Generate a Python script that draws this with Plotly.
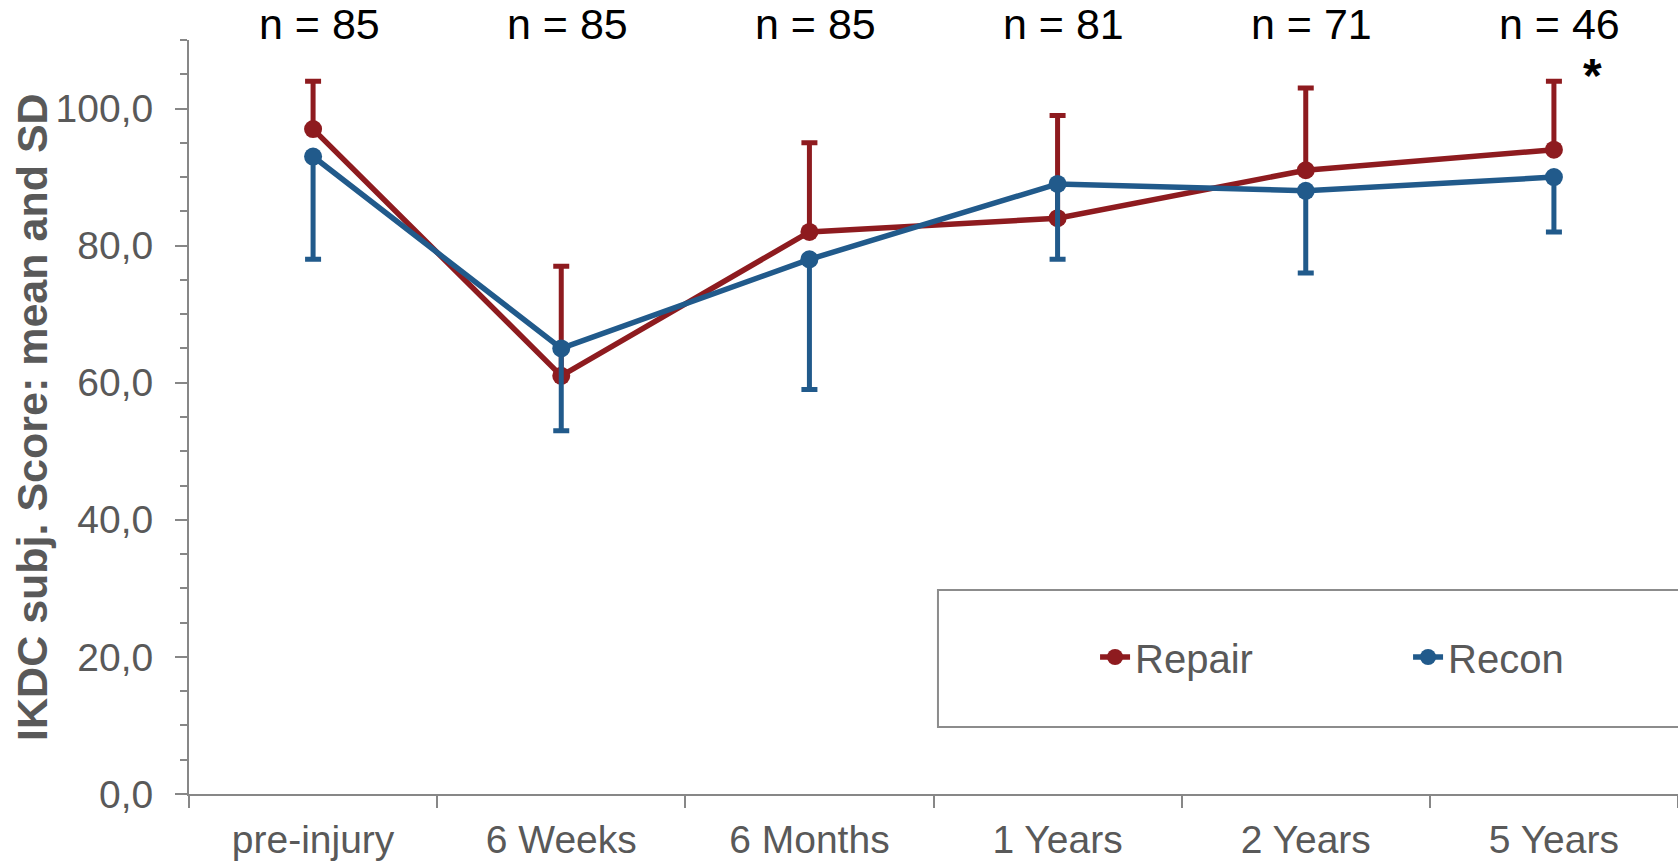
import plotly.graph_objects as go

# Follow-up time points
categories = ["pre-injury", "6 Weeks", "6 Months", "1 Years", "2 Years", "5 Years"]

# IKDC subjective score, mean and SD per group
repair_mean = [97, 61, 82, 84, 91, 94]
repair_sd = [7, 16, 13, 15, 12, 10]
recon_mean = [93, 65, 78, 89, 88, 90]
recon_sd = [15, 12, 19, 11, 12, 8]

# Patients at each time point
n_labels = ["n = 85", "n = 85", "n = 85", "n = 81", "n = 71", "n = 46"]

RED = "#8E1B1F"
BLUE = "#215A8B"
AXIS = "#878787"
TEXT = "#595959"
FONT = "Liberation Sans, Arial, sans-serif"

fig = go.Figure()

fig.add_trace(go.Scatter(
    x=categories, y=repair_mean, name="Repair", mode="lines+markers",
    line=dict(color=RED, width=5.5),
    marker=dict(color=RED, size=18),
    error_y=dict(type="data", symmetric=False, array=repair_sd,
                 arrayminus=[0] * len(repair_sd),
                 color=RED, thickness=5, width=8),
))
fig.add_trace(go.Scatter(
    x=categories, y=recon_mean, name="Recon", mode="lines+markers",
    line=dict(color=BLUE, width=5.5),
    marker=dict(color=BLUE, size=18),
    error_y=dict(type="data", symmetric=False, array=[0] * len(recon_sd),
                 arrayminus=recon_sd,
                 color=BLUE, thickness=5, width=8),
))

# sample sizes above each time point
for cat, label in zip(categories, n_labels):
    fig.add_annotation(
        x=cat, xref="x", y=1.021, yref="paper", text=label, showarrow=False,
        xshift=6, yanchor="middle",
        font=dict(family=FONT, size=43, color="#000000"),
    )

# significance marker at the last follow-up
fig.add_annotation(
    x=categories[-1], xref="x", y=0.953, yref="paper", text="<b>*</b>",
    showarrow=False, xshift=39, yanchor="middle",
    font=dict(family=FONT, size=48, color="#000000"),
)

# y-axis title
fig.add_annotation(
    x=-0.1055, xref="paper", y=0.5, yref="paper",
    text="<b>IKDC subj. Score: mean and SD</b>", textangle=-90,
    showarrow=False, xanchor="center", yanchor="middle",
    font=dict(family=FONT, size=43, color=TEXT),
)

# legend frame
fig.add_shape(
    type="rect", xref="paper", yref="paper",
    x0=0.503, x1=1.02, y0=0.0889, y1=0.2706,
    line=dict(color="#8c8c8c", width=2), fillcolor="rgba(0,0,0,0)",
)

fig.update_layout(
    width=1678, height=865,
    margin=dict(l=189, r=0, t=40, b=71, autoexpand=False),
    paper_bgcolor="white", plot_bgcolor="white",
    separators=", ",
    showlegend=True,
    legend=dict(
        orientation="h", x=0.6085, y=0.1817, xanchor="left", yanchor="middle",
        bgcolor="rgba(0,0,0,0)", borderwidth=0,
        font=dict(family=FONT, size=40, color=TEXT),
        entrywidth=268, entrywidthmode="pixels",
    ),
    xaxis=dict(
        type="category", range=[-0.5, 5.5],
        showline=True, linecolor=AXIS, linewidth=2,
        ticks="outside", tickson="boundaries", ticklen=12, tickwidth=2, tickcolor=AXIS,
        showgrid=False, zeroline=False, automargin=False,
        tickfont=dict(family=FONT, size=39, color=TEXT),
        ticklabelstandoff=10,
    ),
    yaxis=dict(
        range=[0, 110], tickvals=[0, 20, 40, 60, 80, 100], tickformat=".1f",
        showline=True, linecolor=AXIS, linewidth=2,
        ticks="outside", ticklen=12, tickwidth=2, tickcolor=AXIS,
        minor=dict(dtick=5, ticks="outside", ticklen=7, tickwidth=2, tickcolor=AXIS),
        showgrid=False, zeroline=False, automargin=False,
        tickfont=dict(family=FONT, size=39, color=TEXT),
        ticklabelstandoff=14,
    ),
)

fig.write_html("out.html")
